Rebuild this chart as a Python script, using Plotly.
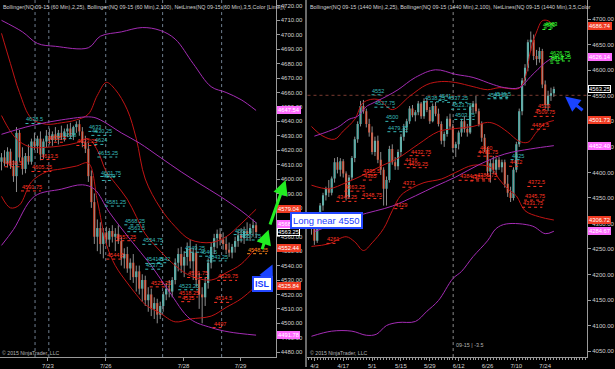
import plotly.graph_objects as go

W, H = 615, 369

# ---------------- LEFT PANEL : NQ 09-15 (60 Min) ----------------
L_OPEN  = [4612,4615,4611,4619,4609,4602,4632,4615,4607,4616,4612,4626,4623,4628,4617,4626,4630,4627,4631,4628,
           4632,4629,4633,4635,4630,4636,4638,4633,4625,4621,4602,4584,4560,4566,4555,4563,4558,4564,4560,4562,
           4557,4545,4548,4538,4542,4532,4536,4524,4530,4516,4520,4510,4514,4506,4512,4520,4524,4522,4530,4542,
           4548,4540,4546,4552,4543,4549,4530,4520,4518,4528,4542,4553,4559,4562,4558,4555,4551,4549,4553,4557,
           4561,4559,4564,4562,4566,4568]
L_HIGH  = [4618,4620,4622,4621,4613,4636,4634,4622,4618,4624,4628,4632,4630,4633,4628,4634,4635,4633,4636,4634,
           4637,4635,4638,4639,4637,4640,4641,4636,4630,4625,4606,4590,4572,4570,4566,4567,4566,4568,4566,4568,
           4560,4552,4553,4545,4548,4540,4540,4534,4533,4525,4524,4518,4517,4515,4522,4528,4530,4532,4545,4552,
           4553,4550,4556,4558,4552,4555,4535,4525,4532,4545,4556,4562,4565,4566,4563,4560,4556,4555,4560,4564,
           4566,4567,4570,4569,4572,4570]
L_LOW   = [4606,4609,4608,4607,4598,4591,4612,4603,4604,4610,4610,4620,4618,4613,4614,4622,4624,4623,4626,4624,
           4627,4626,4629,4628,4627,4632,4630,4622,4618,4598,4580,4555,4550,4548,4545,4554,4553,4556,4550,4555,
           4540,4538,4535,4530,4528,4522,4520,4515,4512,4508,4505,4503,4500,4503,4508,4516,4518,4518,4527,4536,
           4535,4532,4540,4538,4530,4525,4510,4500,4512,4524,4538,4548,4552,4554,4551,4548,4546,4545,4549,4553,
           4556,4555,4558,4557,4560,4559]
L_CLOSE = [4615,4611,4619,4609,4602,4632,4615,4607,4616,4612,4626,4623,4628,4617,4626,4630,4627,4631,4628,4632,
           4629,4633,4635,4630,4636,4638,4633,4625,4621,4602,4584,4560,4566,4555,4563,4558,4564,4560,4562,4557,
           4545,4548,4538,4542,4532,4536,4524,4530,4516,4520,4510,4514,4506,4512,4520,4524,4522,4530,4542,4548,
           4540,4546,4552,4543,4549,4530,4520,4518,4528,4542,4553,4559,4562,4558,4555,4551,4549,4553,4557,4561,
           4559,4564,4562,4566,4568,4563.25]

L_DATE_POS  = [15.5, 34.8, 60.8, 79.8]
L_DATE_TEXT = ["7/23", "7/26", "7/28", "7/29"]
L_SESSION_BREAKS = [11.2, 15.8, 34.8, 53.8, 73.5]

# Bollinger (2,25) - red
LB25_X   = [0, 3, 6, 10, 15, 20, 25, 29, 32, 35, 38, 42, 45, 48, 53, 58, 63, 70, 75, 80, 85]
LB25_UP  = [4701,4680,4660,4642,4638,4639,4641,4645,4658,4667,4662,4648,4628,4600,4580,4567,4558,4556,4560,4569,4579.04]
LB25_MID = [4644,4633,4626,4622,4622,4623,4625,4628,4620,4605,4597,4586,4574,4562,4550,4540,4533,4530,4535,4541,4552.44]
LB25_LOW = [4588,4580,4582,4598,4605,4607,4609,4611,4585,4555,4540,4528,4520,4513,4507,4501,4503,4505,4511,4517,4525.84]
# Bollinger (2,100) - purple
LB100_UP_X  = [0, 7, 12, 18, 29, 33, 40, 47, 53, 58, 64, 70, 75, 80, 85]
LB100_UP    = [4710,4702,4694,4692,4691,4699,4702,4705,4703,4697,4680,4664,4660,4655,4647.54]
LB100_MID_X = [0, 10, 20, 30, 33, 40, 46, 53, 60, 66, 73, 80, 85]
LB100_MID   = [4631,4637,4641,4643,4641,4632,4625,4615,4605,4597,4588,4578,4569.7]
LB100_LOW_X = [0, 4, 11, 20, 27, 31, 36, 43, 50, 56, 63, 70, 76, 85]
LB100_LOW   = [4554,4565,4588,4593,4596,4593,4577,4558,4540,4522,4503,4497,4494,4491.78]

L_NET_TEXT = ["4638.5","4625.5","4628","4633","4630.25","4623.25","4624","4613.5","4608.5","4605.25",
              "4591.75","4615.25","4601.75","4599","4581.25","4568.25","4563.5","4557.25","4544.5","4554.75",
              "4541.5","4542","4537.5","4525.25","4523.25","4518.25","4515","4531.75","4549.25","4546.5",
              "4543.25","4529.75","4514.5","4497","4561.5","4557.75","4548.25"]
L_NET_X    = [8,15.5,20.5,29,30,25,31,13,1,10,6.5,32,33,33.5,34.5,41,42,38,35,47,48,52,48,49.5,59,59,60,62,61,66,
              68.5,72,71,70.5,77.5,79.5,82]
L_NET_KIND = ["t","r","t","t","t","r","t","r","r","r","r","t","t","t","t","t","t","r","r","t",
              "t","t","t","r","t","r","r","r","t","t","t","r","r","r","t","t","o"]

L_AXIS_BOX_VAL  = [4647.54, 4579.04, 4568.71, 4552.44, 4525.84, 4491.78, 4563.25]
L_AXIS_BOX_KIND = ["p", "r", "p", "r", "r", "p", "c"]

# ---------------- RIGHT PANEL : NQ 09-15 (1440 Min) ----------------
R_OPEN  = [4305,4290,4266,4305,4335,4355,4368,4360,4388,4420,4405,4422,4398,4352,4390,4428,4465,4495,4530,4520,
           4495,4478,4440,4462,4425,4405,4368,4385,4446,4420,4412,4440,4470,4488,4500,4525,4512,4518,4535,4510,
           4540,4522,4500,4530,4515,4495,4462,4475,4505,4490,4448,4455,4478,4500,4485,4478,4528,4535,4520,4495,
           4468,4445,4402,4418,4405,4425,4410,4420,4378,4360,4350,4405,4455,4520,4580,4605,4655,4660,4628,4622,
           4638,4572,4532,4550,4555]
R_HIGH  = [4315,4298,4310,4340,4360,4372,4385,4392,4428,4430,4428,4426,4402,4395,4432,4470,4500,4540,4542,4525,
           4505,4490,4470,4472,4440,4410,4392,4452,4455,4430,4445,4475,4495,4505,4530,4532,4522,4540,4538,4545,
           4545,4528,4535,4538,4525,4500,4480,4510,4515,4495,4460,4482,4505,4510,4495,4532,4540,4550,4525,4500,
           4475,4450,4425,4432,4428,4430,4425,4425,4395,4372,4410,4460,4525,4585,4612,4660,4676,4670,4640,4645,
           4642,4580,4560,4566,4568]
R_LOW   = [4278,4258,4262,4300,4325,4345,4352,4355,4380,4398,4392,4390,4345,4348,4385,4420,4458,4490,4515,4488,
           4470,4435,4432,4418,4395,4335,4335,4380,4415,4405,4405,4432,4462,4478,4495,4508,4500,4512,4505,4505,
           4518,4495,4498,4510,4490,4455,4450,4470,4485,4440,4430,4445,4470,4478,4470,4475,4515,4515,4490,4460,
           4440,4395,4380,4398,4395,4405,4400,4370,4352,4342,4345,4400,4450,4512,4570,4598,4638,4620,4610,4615,
           4565,4525,4520,4540,4548]
R_CLOSE = [4290,4266,4305,4335,4355,4368,4360,4388,4420,4405,4422,4398,4352,4390,4428,4465,4495,4530,4520,4495,
           4478,4440,4462,4425,4405,4368,4385,4446,4420,4412,4440,4470,4488,4500,4525,4512,4518,4535,4510,4540,
           4522,4500,4530,4515,4495,4462,4475,4505,4490,4448,4455,4478,4500,4485,4478,4528,4535,4520,4495,4468,
           4445,4402,4418,4405,4425,4410,4420,4378,4360,4350,4405,4455,4520,4580,4605,4655,4660,4628,4622,4638,
           4572,4532,4550,4555,4563.25]

R_DATE_POS  = [1, 11, 21, 31, 41, 51, 61, 71, 81]
R_DATE_TEXT = ["4/3", "4/17", "5/1", "5/15", "5/29", "6/12", "6/26", "7/10", "7/24"]

RB25_UP_X  = [0, 4, 8, 11, 15, 18, 23, 28, 34, 40, 45, 50, 56, 61, 65, 72, 74, 76, 78, 80, 82, 84]
RB25_UP    = [4490,4471,4465,4481,4504,4537,4543,4523,4549,4572,4578,4576,4568,4562,4566,4565,4585,4640,4675,4697,4697,4686.74]
RB25_MID_X = [0, 6, 12, 18, 24, 30, 37, 44, 50, 56, 61, 64, 68, 72, 75, 78, 81, 84]
RB25_MID   = [4375,4368,4380,4395,4412,4428,4455,4480,4486,4490,4498,4494,4479,4461,4459,4479,4496,4501.73]
RB25_LOW_X = [0, 6, 12, 15, 18, 21, 25, 28, 31, 35, 39, 45, 50, 56, 62, 65, 68, 71, 74, 79, 84]
RB25_LOW   = [4255,4260,4274,4264,4247,4262,4290,4325,4355,4370,4380,4387,4400,4414,4410,4387,4368,4354,4325,4313,4306.72]
RB100_UP_X  = [1, 9, 13, 16, 19, 21, 26, 30, 36, 43, 50, 56, 63, 67, 72, 76, 81, 84]
RB100_UP    = [4471,4488,4504,4510,4529,4535,4549,4562,4586,4601,4592,4586,4572,4566,4566,4588,4615,4626.14]
RB100_MID_X = [1, 16, 28, 36, 43, 50, 58, 67, 76, 84]
RB100_MID   = [4284,4315,4334,4354,4373,4391,4415,4436,4446,4452.40]
RB100_LOW_X = [0, 7, 14, 19, 22.5, 26, 30, 36, 40, 44, 49, 52, 56, 61, 64, 67.5, 76.5, 81, 84]
RB100_LOW   = [4079,4089,4089,4081,4083,4100,4106,4108,4128,4149,4192,4206,4235,4266,4290,4299,4295,4280,4284.67]

R_NET_TEXT = ["4552","4527.75","4500","4479.75","4538.25","4541","4537.25","4523.75","4503.75","4544.25",
              "4546.5","4432.75","4416","4409.25","4371","4329","4395.5","4385","4363.25","4343.25",
              "4348.75","4305.75","4261","4440","4431.75","4386.75","4384.5","4383.25","4425","4412",
              "4372.5","4345.75","4331.75","4484.5","4509.75","4523","4680","4683","4626.75","4618.25","4614"]
R_NET_X    = [20.8,21.8,25.6,26.3,39,44,47,48.4,49.5,61,63,34,32,33,31.5,28.7,17.6,17.8,11.4,8.6,
              17.3,7.3,5.2,58,57.5,57,51,55,69,68.5,74.8,73.7,73,76,77,78,80,80.5,82.4,82.6,82.8]
R_NET_KIND = ["t","t","t","t","t","t","t","t","t","t","t","r","r","r","r","r","r","r","r","r",
              "r","r","r","r","r","r","r","r","t","r","r","r","r","r","r","r","g","g","g","g","g"]

R_AXIS_BOX_VAL  = [4686.74, 4626.14, 4501.73, 4452.40, 4306.72, 4284.67, 4563.25]
R_AXIS_BOX_KIND = ["r", "p", "r", "p", "r", "p", "c"]

R_CROSS_X = 49.1
R_CROSS_Y = 4551
LONG_LEVEL_TEXT = "Long near 4550"

# ---------------- styles ----------------
UP, DOWN, WICK = "#3fd6cc", "#ff3a14", "#8c8c8c"
RED_BAND, PURPLE_BAND = "#c01414", "#a42cb4"
NET_COL = {"t": "#37b9b9", "r": "#ff3322", "g": "#33ff33", "o": "#ff8a1c"}
BOX_BG = {"p": "#ff6cff", "r": "#ef3b22", "c": "#000000"}
FONT = "Liberation Sans"
TXT = "#d2d2d2"

fig = go.Figure()


def add_candles(o, h, l, c, xa, ya, min_body):
    xs = list(range(len(c)))
    wx, wy = [], []
    for x, hi, lo in zip(xs, h, l):
        wx += [x, x, None]
        wy += [lo, hi, None]
    fig.add_trace(go.Scatter(x=wx, y=wy, mode="lines", line=dict(color=WICK, width=1),
                             xaxis=xa, yaxis=ya, hoverinfo="skip", showlegend=False))
    base = [min(a, b) for a, b in zip(o, c)]
    size = [max(abs(b - a), min_body) for a, b in zip(o, c)]
    cols = [UP if b >= a else DOWN for a, b in zip(o, c)]
    fig.add_trace(go.Bar(x=xs, y=size, base=base, width=0.72, marker=dict(color=cols, line=dict(width=0)),
                         xaxis=xa, yaxis=ya, hoverinfo="skip", showlegend=False))


def add_band(x, y, color, xa, ya):
    fig.add_trace(go.Scatter(x=x, y=y, mode="lines", line=dict(color=color, width=1, shape="spline"),
                             xaxis=xa, yaxis=ya, hoverinfo="skip", showlegend=False))


def add_netlines(texts, xs, kinds, xa, ya, per_char):
    for k in NET_COL:
        sx, sy = [], []
        for t, x, kd in zip(texts, xs, kinds):
            if kd != k:
                continue
            v = float(t)
            sx += [x, x + per_char * len(t), None]
            sy += [v, v, None]
        if sx:
            fig.add_trace(go.Scatter(x=sx, y=sy, mode="lines",
                                     line=dict(color=NET_COL[k], width=1, dash="dot"),
                                     xaxis=xa, yaxis=ya, hoverinfo="skip", showlegend=False))
    for t, x, kd in zip(texts, xs, kinds):
        fig.add_annotation(x=x, y=float(t), xref=xa, yref=ya, text=t, showarrow=False,
                           xanchor="left", yanchor="bottom", borderpad=0,
                           font=dict(family=FONT, size=5.6, color=NET_COL[kd]))


# left panel
add_candles(L_OPEN, L_HIGH, L_LOW, L_CLOSE, "x", "y", 0.5)
add_band(LB25_X, LB25_UP, RED_BAND, "x", "y")
add_band(LB25_X, LB25_MID, RED_BAND, "x", "y")
add_band(LB25_X, LB25_LOW, RED_BAND, "x", "y")
add_band(LB100_UP_X, LB100_UP, PURPLE_BAND, "x", "y")
add_band(LB100_MID_X, LB100_MID, PURPLE_BAND, "x", "y")
add_band(LB100_LOW_X, LB100_LOW, PURPLE_BAND, "x", "y")
add_netlines(L_NET_TEXT, L_NET_X, L_NET_KIND, "x", "y", 0.95)

# right panel
add_candles(R_OPEN, R_HIGH, R_LOW, R_CLOSE, "x2", "y2", 1.5)
add_band(RB25_UP_X, RB25_UP, RED_BAND, "x2", "y2")
add_band(RB25_MID_X, RB25_MID, RED_BAND, "x2", "y2")
add_band(RB25_LOW_X, RB25_LOW, RED_BAND, "x2", "y2")
add_band(RB100_UP_X, RB100_UP, PURPLE_BAND, "x2", "y2")
add_band(RB100_MID_X, RB100_MID, PURPLE_BAND, "x2", "y2")
add_band(RB100_LOW_X, RB100_LOW, PURPLE_BAND, "x2", "y2")
add_netlines(R_NET_TEXT, R_NET_X, R_NET_KIND, "x2", "y2", 1.0)

shapes = []
for b in L_SESSION_BREAKS:
    shapes.append(dict(type="line", xref="x", yref="y domain", x0=b, x1=b, y0=0, y1=1,
                       line=dict(color="#6f7f90", width=1, dash="dot"), layer="below"))
shapes.append(dict(type="line", xref="x2", yref="y2 domain", x0=R_CROSS_X, x1=R_CROSS_X, y0=0, y1=1,
                   line=dict(color="#8a8a8a", width=1, dash="dot"), layer="below"))
shapes.append(dict(type="line", xref="x2 domain", yref="y2", x0=0, x1=1, y0=R_CROSS_Y, y1=R_CROSS_Y,
                   line=dict(color="#7a3a30", width=1, dash="dot"), layer="below"))
# panel separator
shapes.append(dict(type="line", xref="paper", yref="paper", x0=306.5 / W, x1=306.5 / W, y0=0, y1=1,
                   line=dict(color="#8e8e8e", width=1.5)))

axis_common = dict(showgrid=False, zeroline=False, showline=True, linecolor="#9a9a9a", linewidth=1,
                   ticks="outside", ticklen=3, tickcolor="#9a9a9a",
                   tickfont=dict(family=FONT, size=6, color=TXT), fixedrange=True)
ydom = [10 / H, 1]

fig.update_layout(
    width=W, height=H, margin=dict(l=0, r=0, t=0, b=0),
    paper_bgcolor="#000000", plot_bgcolor="#000000", showlegend=False, barmode="overlay",
    font=dict(family=FONT, color=TXT),
    xaxis=dict(domain=[0, 276 / W], range=[-0.5, 91.5], anchor="y", tickmode="array",
               tickvals=L_DATE_POS, ticktext=L_DATE_TEXT, **axis_common),
    yaxis=dict(domain=ydom, range=[4476.6, 4724.1], anchor="x", side="right", tickmode="linear",
               tick0=4480, dtick=10, tickformat=".2f", **axis_common),
    xaxis2=dict(domain=[308 / W, 588 / W], range=[-1.38, 95.5], anchor="y2", tickmode="array",
                tickvals=R_DATE_POS, ticktext=R_DATE_TEXT,
                minor=dict(tickmode="linear", tick0=0, dtick=1, ticklen=2, tickcolor="#9a9a9a", ticks="outside"),
                **axis_common),
    yaxis2=dict(domain=ydom, range=[4038.3, 4737.7], anchor="x2", side="right", tickmode="linear",
                tick0=4050, dtick=50, tickformat=".2f", **axis_common),
    shapes=shapes,
)

# value boxes on the price axes
for vals, kinds, xa, ya in [(L_AXIS_BOX_VAL, L_AXIS_BOX_KIND, "x domain", "y"),
                            (R_AXIS_BOX_VAL, R_AXIS_BOX_KIND, "x2 domain", "y2")]:
    for v, k in zip(vals, kinds):
        fig.add_annotation(x=1, y=v, xref=xa, yref=ya, text=f"{v:.2f}", showarrow=False,
                           xanchor="left", yanchor="middle", xshift=1, bgcolor=BOX_BG[k],
                           bordercolor="#ffffff" if k == "c" else BOX_BG[k], borderwidth=1, borderpad=0,
                           font=dict(family=FONT, size=5.8, color="#ffffff"))

# headers & footers
fig.add_annotation(x=1 / W, y=1 - 2 / H, xref="paper", yref="paper", xanchor="left", yanchor="top",
                   showarrow=False, font=dict(family=FONT, size=5.4, color=TXT),
                   text="Bollinger(NQ 09-15 (60 Min),2,25), Bollinger(NQ 09-15 (60 Min),2,100), NetLines(NQ 09-15 (60 Min),3,5,Color [Lime],(")
fig.add_annotation(x=309 / W, y=1 - 2 / H, xref="paper", yref="paper", xanchor="left", yanchor="top",
                   showarrow=False, font=dict(family=FONT, size=5.4, color=TXT),
                   text="Bollinger(NQ 09-15 (1440 Min),2,25), Bollinger(NQ 09-15 (1440 Min),2,100), NetLines(NQ 09-15 (1440 Min),3,5,Color")
for xp in (0, 309):
    fig.add_annotation(x=xp / W, y=1 - 355 / H, xref="paper", yref="paper", xanchor="left", yanchor="middle",
                       showarrow=False, font=dict(family=FONT, size=5.2, color="#b4b4b4"),
                       text="© 2015 NinjaTrader, LLC")
fig.add_annotation(x=455 / W, y=1 - 347 / H, xref="paper", yref="paper", xanchor="left", yanchor="middle",
                   showarrow=False, font=dict(family=FONT, size=5.4, color="#b4b4b4"), text="09-15 | -3.5")

# drawn arrows
for hx, hy, dx, dy, col in [(269, 231, -7, 21, "#22ee22"), (286, 181, -16, 46, "#22ee22"),
                            (273, 266, -9, 19, "#1a44ff"), (566, 97, 19, 15, "#1a44ff")]:
    fig.add_annotation(x=hx / W, y=1 - hy / H, xref="paper", yref="paper", ax=dx, ay=dy,
                       axref="pixel", ayref="pixel", text="", showarrow=True,
                       arrowhead=2, arrowsize=1, arrowwidth=3, arrowcolor=col)

# text boxes
fig.add_annotation(x=327 / W, y=1 - 221.5 / H, xref="paper", yref="paper", showarrow=False,
                   text=LONG_LEVEL_TEXT, bgcolor="#ffffff", bordercolor="#2448ff", borderwidth=2, borderpad=1,
                   font=dict(family=FONT, size=9.5, color="#1a3cff"))
fig.add_annotation(x=262.5 / W, y=1 - 293.5 / H, xref="paper", yref="paper", showarrow=False,
                   text="<b>ISL</b>", bgcolor="#ffffff", bordercolor="#2448ff", borderwidth=2, borderpad=1,
                   font=dict(family=FONT, size=9, color="#1a3cff"))

fig.write_html("out.html")
